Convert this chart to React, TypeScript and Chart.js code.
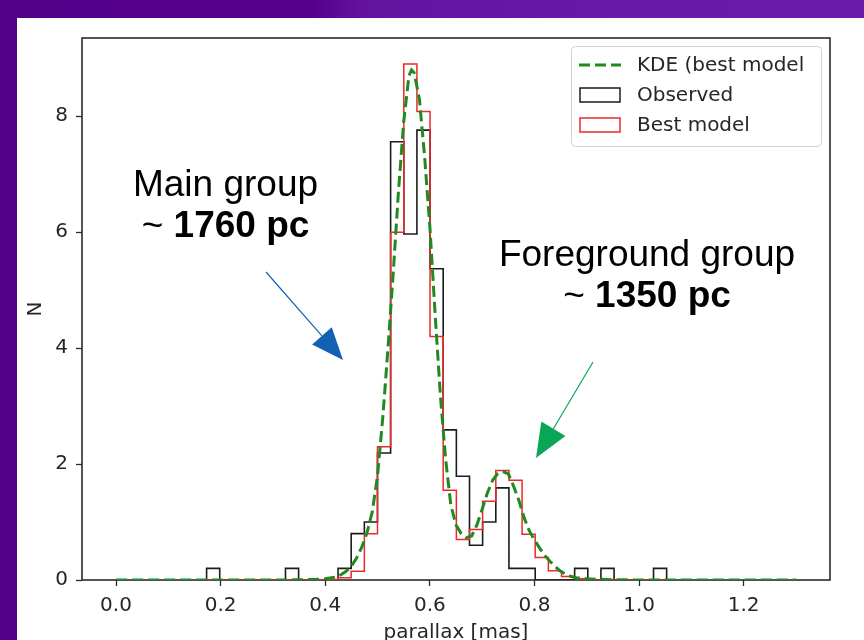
import React, { useEffect, useRef } from 'react';
import { Chart, registerables } from 'chart.js';

Chart.register(...registerables);

// ---------- data ----------
const binEdges = [
  0.1732, 0.1983, 0.2235, 0.2486, 0.2737, 0.2989, 0.324, 0.3491, 0.3742, 0.3994,
  0.4245, 0.4496, 0.4748, 0.4999, 0.525, 0.5502, 0.5753, 0.6004, 0.6255, 0.6507,
  0.6758, 0.7009, 0.7261, 0.7512, 0.7763, 0.8014, 0.8266, 0.8517, 0.8768, 0.902,
  0.9271, 0.9522, 0.9773, 1.0025, 1.0276, 1.0527,
];

const observedDensity = [
  0.2, 0, 0, 0, 0, 0, 0.2, 0, 0, 0,
  0.2, 0.8, 1.0, 2.19, 7.56, 5.97, 7.76, 5.37, 2.59, 1.79,
  0.6, 1.0, 1.59, 0.2, 0.2, 0, 0, 0, 0.2, 0,
  0.2, 0, 0, 0, 0.2,
];

const modelDensity = [
  0, 0, 0, 0, 0, 0, 0, 0, 0, 0.01,
  0.04, 0.15, 0.8, 2.3, 6.0, 8.9, 8.08, 4.2, 1.55, 0.7,
  0.87, 1.36, 1.89, 1.72, 0.79, 0.39, 0.16, 0.06, 0.02, 0,
  0, 0, 0, 0, 0,
];

const kdeX = [
  0, 0.05, 0.1, 0.15, 0.2, 0.25, 0.3, 0.35, 0.38, 0.4,
  0.42, 0.43, 0.44, 0.45, 0.46, 0.47, 0.48, 0.49, 0.5, 0.51,
  0.52, 0.53, 0.54, 0.55, 0.56, 0.565, 0.57, 0.58, 0.59, 0.6,
  0.61, 0.62, 0.63, 0.64, 0.65, 0.66, 0.67, 0.68, 0.69, 0.7,
  0.71, 0.72, 0.73, 0.74, 0.75, 0.76, 0.77, 0.78, 0.79, 0.8,
  0.81, 0.82, 0.83, 0.84, 0.85, 0.86, 0.87, 0.88, 0.9, 0.95,
  1.0, 1.05, 1.1, 1.15, 1.2, 1.25, 1.3,
];

const kdeY = [
  0, 0, 0, 0, 0, 0, 0, 0.003, 0.01, 0.02,
  0.05, 0.09, 0.15, 0.24, 0.38, 0.57, 0.82, 1.18, 1.8, 2.8,
  4.0, 5.3, 6.7, 7.9, 8.7, 8.8, 8.75, 8.3, 7.3, 6.1,
  4.6, 3.2, 2.1, 1.3, 0.95, 0.8, 0.73, 0.76, 0.95, 1.22,
  1.5, 1.72, 1.84, 1.87, 1.83, 1.62, 1.38, 1.08, 0.85, 0.69,
  0.55, 0.42, 0.32, 0.23, 0.15, 0.1, 0.06, 0.04, 0.02, 0.005,
  0, 0, 0, 0, 0, 0, 0,
];

const xTickValues = [0, 0.2, 0.4, 0.6, 0.8, 1.0, 1.2];
const yTickValues = [0, 2, 4, 6, 8];
const xRange = [-0.065, 1.365];
const yRange = [0, 9.35];

const legendLabels = ['KDE (best model', 'Observed', 'Best model'];
const xAxisTitle = 'parallax [mas]';
const yAxisTitle = 'N';

const mainGroupLines = ['Main group', '1760 pc'];
const foreGroupLines = ['Foreground group', '1350 pc'];

// ---------- helpers ----------
function stepPoints(edges: number[], values: number[]) {
  const pts: { x: number; y: number }[] = [{ x: edges[0], y: 0 }];
  values.forEach((v, i) => pts.push({ x: edges[i], y: v }));
  pts.push({ x: edges[edges.length - 1], y: 0 });
  return pts;
}

const TEXT_COLOR = '#262626';
const FONT = '"DejaVu Sans", sans-serif';
const KDE_COLOR = '#1f8a1f';
const OBS_COLOR = '#1c1c1c';
const MODEL_COLOR = '#ea2a2a';

const framePlugin = {
  id: 'frame',
  beforeDatasetsDraw(chart: any) {
    const { ctx, chartArea } = chart;
    ctx.save();
    ctx.strokeStyle = '#2a2a2a';
    ctx.lineWidth = 1.6;
    ctx.strokeRect(chartArea.left, chartArea.top, chartArea.right - chartArea.left, chartArea.bottom - chartArea.top);
    ctx.restore();
  },
};

const legendPlugin = {
  id: 'boxLegend',
  afterDatasetsDraw(chart: any) {
    const { ctx } = chart;
    const x0 = 554, y0 = 28, w = 250, h = 100;
    ctx.save();
    ctx.beginPath();
    (ctx as any).roundRect(x0 + 0.5, y0 + 0.5, w, h, 4);
    ctx.fillStyle = 'rgba(255,255,255,0.85)';
    ctx.fill();
    ctx.strokeStyle = '#d2d2d2';
    ctx.lineWidth = 1;
    ctx.stroke();
    const rows = [47, 77, 107];
    const hx0 = 562, hx1 = 604;
    legendLabels.forEach((label, i) => {
      const cy = rows[i];
      const ds = chart.data.datasets[i];
      ctx.save();
      if (i === 0) {
        ctx.strokeStyle = ds.borderColor;
        ctx.lineWidth = ds.borderWidth;
        ctx.setLineDash(ds.borderDash);
        ctx.beginPath();
        ctx.moveTo(hx0, cy);
        ctx.lineTo(hx1, cy);
        ctx.stroke();
      } else {
        ctx.strokeStyle = ds.borderColor;
        ctx.lineWidth = 1.5;
        ctx.strokeRect(hx0 + 1, cy - 7, hx1 - hx0 - 2, 14);
      }
      ctx.restore();
      ctx.fillStyle = TEXT_COLOR;
      ctx.font = `20px ${FONT}`;
      ctx.textBaseline = 'middle';
      ctx.textAlign = 'left';
      ctx.fillText(label, 620, cy + 1);
    });
    ctx.restore();
  },
};

function drawArrow(ctx: CanvasRenderingContext2D, sx: number, sy: number, tx: number, ty: number, color: string, headLen: number, headHalf: number) {
  const dx = tx - sx, dy = ty - sy;
  const len = Math.hypot(dx, dy);
  const ux = dx / len, uy = dy / len;
  const bx = tx - ux * headLen, by = ty - uy * headLen;
  ctx.save();
  ctx.strokeStyle = color;
  ctx.fillStyle = color;
  ctx.lineWidth = 1.2;
  ctx.beginPath();
  ctx.moveTo(sx, sy);
  ctx.lineTo(bx, by);
  ctx.stroke();
  ctx.beginPath();
  ctx.moveTo(tx, ty);
  ctx.lineTo(bx - uy * headHalf, by + ux * headHalf);
  ctx.lineTo(bx + uy * headHalf, by - ux * headHalf);
  ctx.closePath();
  ctx.fill();
  ctx.restore();
}

function drawLabel(ctx: CanvasRenderingContext2D, cx: number, baseline1: number, baseline2: number, lines: string[]) {
  ctx.save();
  ctx.fillStyle = '#000';
  ctx.textBaseline = 'alphabetic';
  ctx.textAlign = 'center';
  const reg = '37px "Liberation Sans", Arial, sans-serif';
  const bold = 'bold 37px "Liberation Sans", Arial, sans-serif';
  ctx.font = reg;
  ctx.fillText(lines[0], cx, baseline1);
  const pre = '~ ';
  const wPre = ctx.measureText(pre).width;
  ctx.font = bold;
  const wNum = ctx.measureText(lines[1]).width;
  const start = cx - (wPre + wNum) / 2;
  ctx.textAlign = 'left';
  ctx.font = reg;
  ctx.fillText(pre, start, baseline2);
  ctx.font = bold;
  ctx.fillText(lines[1], start + wPre, baseline2);
  ctx.restore();
}

const annotationPlugin = {
  id: 'annotations',
  afterDraw(chart: any) {
    const { ctx } = chart;
    drawLabel(ctx, 208.5, 178, 219, mainGroupLines);
    drawLabel(ctx, 630, 248, 289, foreGroupLines);
    drawArrow(ctx, 249, 254, 326, 342, '#1262b3', 32, 13);
    drawArrow(ctx, 576, 344, 519, 440, '#0aa655', 34, 14);
  },
};

export default function App() {
  const canvasRef = useRef<HTMLCanvasElement | null>(null);

  useEffect(() => {
    const canvas = canvasRef.current;
    if (!canvas) return;
    const chart = new Chart(canvas, {
      type: 'line',
      data: {
        datasets: [
          {
            label: legendLabels[0],
            data: kdeX.map((x, i) => ({ x, y: kdeY[i] })),
            borderColor: KDE_COLOR,
            borderWidth: 3,
            borderDash: [11, 5],
            pointRadius: 0,
            tension: 0,
            fill: false,
            order: 0,
          },
          {
            label: legendLabels[1],
            data: stepPoints(binEdges, observedDensity),
            borderColor: OBS_COLOR,
            borderWidth: 1.6,
            stepped: 'before',
            pointRadius: 0,
            fill: false,
            order: 2,
          },
          {
            label: legendLabels[2],
            data: stepPoints(binEdges, modelDensity),
            borderColor: MODEL_COLOR,
            borderWidth: 1.5,
            stepped: 'before',
            pointRadius: 0,
            fill: false,
            order: 1,
          },
        ],
      },
      options: {
        responsive: false,
        animation: false,
        devicePixelRatio: 1,
        layout: { padding: { left: 0, top: 20, right: 34, bottom: 0 } },
        plugins: {
          legend: { display: false },
          tooltip: { enabled: false },
        },
        scales: {
          x: {
            type: 'linear',
            min: xRange[0],
            max: xRange[1],
            afterFit: (s: any) => { s.height = 60; },
            afterBuildTicks: (s: any) => { s.ticks = xTickValues.map((v) => ({ value: v })); },
            border: { display: false },
            grid: { display: true, drawOnChartArea: false, drawTicks: true, tickLength: 6, tickColor: '#2a2a2a', tickWidth: 1.3 },
            ticks: {
              color: TEXT_COLOR,
              font: { family: FONT, size: 20 },
              padding: 8,
              maxRotation: 0,
              autoSkip: false,
              callback: (v: any) => Number(v).toFixed(1),
            },
            title: {
              display: true,
              text: xAxisTitle,
              color: TEXT_COLOR,
              font: { family: FONT, size: 20, lineHeight: 0.7 },
              padding: 0,
            },
          },
          y: {
            type: 'linear',
            min: yRange[0],
            max: yRange[1],
            afterFit: (s: any) => { s.width = 65; },
            afterBuildTicks: (s: any) => { s.ticks = yTickValues.map((v) => ({ value: v })); },
            border: { display: false },
            grid: { display: true, drawOnChartArea: false, drawTicks: true, tickLength: 6, tickColor: '#2a2a2a', tickWidth: 1.3 },
            ticks: {
              color: TEXT_COLOR,
              font: { family: FONT, size: 20 },
              padding: 8,
              autoSkip: false,
              callback: (v: any) => String(v),
            },
            title: {
              display: true,
              text: yAxisTitle,
              color: TEXT_COLOR,
              font: { family: FONT, size: 20, lineHeight: 1.2 },
              padding: { top: 7, bottom: 0 },
            },
          },
        },
      },
      plugins: [framePlugin, legendPlugin, annotationPlugin],
    } as any);
    return () => chart.destroy();
  }, []);

  return (
    <div
      style={{
        position: 'fixed',
        left: 0,
        top: 0,
        width: 864,
        height: 640,
        overflow: 'hidden',
        background: 'linear-gradient(to right, #53008b 0%, #55008d 36%, #6412a0 42%, #6a18a8 70%, #6c1aa9 100%)',
      }}
    >
      <div style={{ position: 'absolute', left: 17, top: 18, width: 847, height: 622, background: '#ffffff' }}>
        <canvas ref={canvasRef} width={847} height={622} style={{ display: 'block', width: 847, height: 622 }} />
      </div>
    </div>
  );
}
